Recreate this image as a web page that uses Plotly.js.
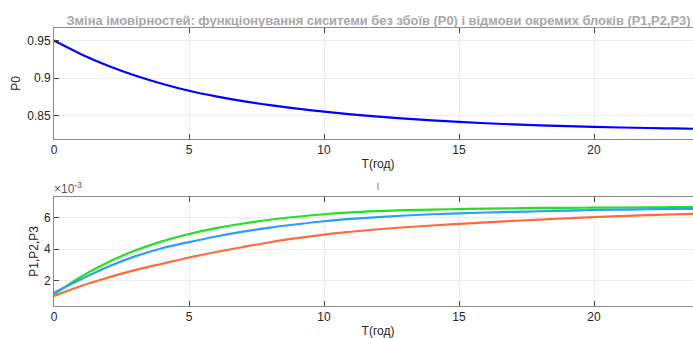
<!DOCTYPE html>
<html>
<head>
<meta charset="utf-8">
<script src="https://cdn.plot.ly/plotly-3.0.1.min.js"></script>
<style>
html, body { margin:0; padding:0; overflow:hidden; background:#fff; width:693px; height:338px; }
#chart { width:720px; height:338px; }
</style>
</head>
<body>
<div id="chart"></div>
<script>
// time in hours
const T = [0,1,2,3,4,5,6,7,8,9,10,11,12,13,14,15,16,17,18,19,20,21,22,23,24];
// probability of failure-free operation
const P0 = [0.9500,0.9320,0.9167,0.9037,0.8927,0.8833,0.8758,0.8695,0.8642,0.8596,0.8557,0.8521,0.8490,0.8463,0.8440,0.8420,0.8402,0.8387,0.8374,0.8363,0.8354,0.8346,0.8339,0.8333,0.8327];
// block failure probabilities, in units of 10^-3
const P1 = [1.10,2.23,3.16,3.90,4.49,4.96,5.33,5.63,5.87,6.06,6.22,6.34,6.42,6.48,6.52,6.55,6.58,6.60,6.62,6.63,6.64,6.65,6.66,6.67,6.68];
const P2 = [1.21,2.07,2.87,3.53,4.05,4.44,4.80,5.11,5.37,5.58,5.77,5.92,6.04,6.14,6.22,6.28,6.33,6.37,6.41,6.45,6.49,6.52,6.54,6.56,6.57];
const P3 = [1.00,1.64,2.17,2.65,3.06,3.46,3.81,4.13,4.43,4.69,4.92,5.10,5.26,5.39,5.50,5.60,5.70,5.79,5.88,5.96,6.04,6.10,6.16,6.22,6.26];
const titleText = 'Зміна імовірностей: функціонування сиситеми без збоїв (P0) і відмови окремих блоків (P1,P2,P3)';
const xTitle = 'T(год)';

const font = 'Liberation Sans, Arial, sans-serif';
const axisCommon = {
  showline: true, linecolor: '#8c8c8c', linewidth: 1, mirror: 'ticks',
  ticks: 'inside', ticklen: 5, tickcolor: '#444', tickwidth: 1,
  showgrid: true, gridcolor: '#ececec', zeroline: false,
  tickfont: {family: font, size: 12, color: '#262626'}
};

const traces = [
  {x: T, y: P0, xaxis: 'x', yaxis: 'y', mode: 'lines', line: {color: '#0000ff', width: 2.2, shape: 'spline'}, name: 'P0'},
  {x: T, y: P1, xaxis: 'x2', yaxis: 'y2', mode: 'lines', line: {color: '#1ee31e', width: 2.2, shape: 'spline'}, name: 'P1'},
  {x: T, y: P2, xaxis: 'x2', yaxis: 'y2', mode: 'lines', line: {color: '#2e9cff', width: 2.2, shape: 'spline'}, name: 'P2'},
  {x: T, y: P3, xaxis: 'x2', yaxis: 'y2', mode: 'lines', line: {color: '#ff6a3c', width: 2.2, shape: 'spline'}, name: 'P3'}
];

const H = 338, W = 720;
const layout = {
  width: W, height: H,
  margin: {l: 54, r: 18, t: 0, b: 0},
  paper_bgcolor: '#fff', plot_bgcolor: '#fff',
  showlegend: false,
  title: {text: '<b>' + titleText + '</b>', x: 378.5/W, xref: 'container', xanchor: 'center',
          y: 1 - 20/H, yref: 'container', yanchor: 'middle',
          font: {family: font, size: 12.9, color: '#a8a8a8'}},
  xaxis: Object.assign({}, axisCommon, {domain: [0,1], anchor: 'y', range: [0, 24], tickvals: [0,5,10,15,20],
          title: {text: xTitle, standoff: 3, font: {family: font, size: 12, color: '#262626'}}}),
  yaxis: Object.assign({}, axisCommon, {domain: [1-139/H, 1-28/H], anchor: 'x', range: [0.8193, 0.9667], tickvals: [0.85, 0.9, 0.95],
          title: {text: 'P0', standoff: 4, font: {family: font, size: 12, color: '#262626'}}}),
  xaxis2: Object.assign({}, axisCommon, {domain: [0,1], anchor: 'y2', range: [0, 24], tickvals: [0,5,10,15,20],
          title: {text: xTitle, standoff: 3, font: {family: font, size: 12, color: '#262626'}}}),
  yaxis2: Object.assign({}, axisCommon, {domain: [1-306/H, 1-196.7/H], anchor: 'x2', range: [0.36, 7.34], tickvals: [2, 4, 6],
          title: {text: 'P1,P2,P3', standoff: 2, font: {family: font, size: 12, color: '#262626'}}}),
  annotations: [
    {text: '×10<sup>-3</sup>', xref: 'paper', yref: 'paper', x: 0, y: 1-196.7/H, xanchor: 'left', yanchor: 'bottom',
     showarrow: false, font: {family: font, size: 12, color: '#555'}, xshift: -2, yshift: -1}
  ],
  shapes: [
    {type: 'line', xref: 'paper', yref: 'paper', x0: 0.5, x1: 0.5, y0: 1-190/H, y1: 1-183/H, line: {color: '#a8a8a8', width: 1.5}}
  ]
};

Plotly.newPlot('chart', traces, layout, {displayModeBar: false, staticPlot: true});
</script>
</body>
</html>
